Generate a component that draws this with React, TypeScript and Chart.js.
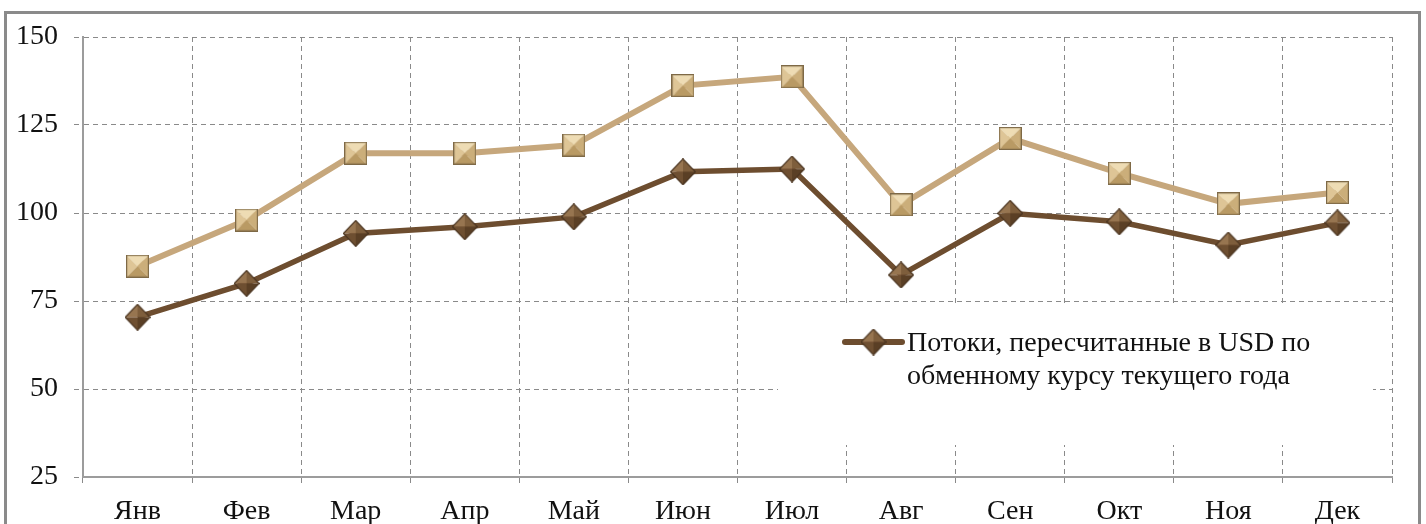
import React, { useEffect, useRef } from "react";
import { Chart, registerables } from "chart.js";

Chart.register(...registerables);

const months = ["Янв", "Фев", "Мар", "Апр", "Май", "Июн", "Июл", "Авг", "Сен", "Окт", "Ноя", "Дек"];
const constantRateFlows = [84.9, 98.0, 117.0, 117.0, 119.3, 136.2, 138.7, 102.3, 121.2, 111.3, 102.6, 105.8];
const currentRateFlows = [70.4, 80.0, 94.2, 96.1, 98.9, 111.7, 112.5, 82.4, 99.9, 97.5, 90.9, 97.2];
const yMin = 25;
const yMax = 150;
const yStep = 25;
const legendLines = ["Потоки, пересчитанные в USD по", "обменному курсу текущего года"];

const FONT = "'Liberation Serif', 'Times New Roman', serif";
const LIGHT_LINE = "#C6A77C";
const DARK_LINE = "#6D4D2F";
const GRID = "#8a8a8a";
const AXIS = "#9c9c9c";

function tri(g: CanvasRenderingContext2D, pts: number[][], color: string) {
  g.beginPath();
  g.moveTo(pts[0][0], pts[0][1]);
  for (let i = 1; i < pts.length; i++) g.lineTo(pts[i][0], pts[i][1]);
  g.closePath();
  g.fillStyle = color;
  g.fill();
}

function makeSquare(size: number) {
  const c = document.createElement("canvas");
  c.width = size;
  c.height = size;
  const g = c.getContext("2d")!;
  const s = size;
  const h = s / 2;
  tri(g, [[0, 0], [s, 0], [h, h]], "#EEDCB4");
  tri(g, [[0, 0], [0, s], [h, h]], "#DEC596");
  tri(g, [[s, 0], [s, s], [h, h]], "#CBAE7A");
  tri(g, [[0, s], [s, s], [h, h]], "#B99A64");
  g.strokeStyle = "#7E6946";
  g.lineWidth = 1.2;
  g.strokeRect(0.6, 0.6, s - 1.2, s - 1.2);
  return c;
}

function makeDiamond(w: number, hgt: number) {
  const c = document.createElement("canvas");
  c.width = w;
  c.height = hgt;
  const g = c.getContext("2d")!;
  const cx = w / 2;
  const cy = hgt / 2;
  tri(g, [[0.5, cy], [cx, 0.5], [cx, cy]], "#977550");
  tri(g, [[cx, 0.5], [w - 0.5, cy], [cx, cy]], "#7E5E3C");
  tri(g, [[w - 0.5, cy], [cx, hgt - 0.5], [cx, cy]], "#5A3F25");
  tri(g, [[cx, hgt - 0.5], [0.5, cy], [cx, cy]], "#6E4F31");
  g.beginPath();
  g.moveTo(cx, 0.6);
  g.lineTo(w - 0.6, cy);
  g.lineTo(cx, hgt - 0.6);
  g.lineTo(0.6, cy);
  g.closePath();
  g.strokeStyle = "#4A3420";
  g.lineWidth = 1.2;
  g.stroke();
  return c;
}

export default function App() {
  const ref = useRef<HTMLCanvasElement | null>(null);

  useEffect(() => {
    if (!ref.current) return;
    const square = makeSquare(23);
    const diamond = makeDiamond(26, 27);

    const legendPlugin = {
      id: "innerLegend",
      beforeDatasetsDraw(chart: any) {
        const { ctx, chartArea } = chart;
        ctx.save();
        ctx.fillStyle = "#ffffff";
        ctx.fillRect(chartArea.left + 695, chartArea.top + 266, 595, 142);
        ctx.restore();
      },
      afterDatasetsDraw(chart: any) {
        const { ctx, chartArea } = chart;
        const x0 = chartArea.left + 762;
        const y0 = chartArea.top + 305;
        ctx.save();
        ctx.strokeStyle = DARK_LINE;
        ctx.lineWidth = 6;
        ctx.lineCap = "round";
        ctx.beginPath();
        ctx.moveTo(x0, y0);
        ctx.lineTo(x0 + 57, y0);
        ctx.stroke();
        ctx.drawImage(diamond, x0 + 28.5 - diamond.width / 2, y0 - diamond.height / 2);
        ctx.fillStyle = "#111111";
        ctx.font = `28px ${FONT}`;
        ctx.textBaseline = "alphabetic";
        ctx.textAlign = "left";
        legendLines.forEach((t, i) => {
          ctx.fillText(t, x0 + 62, y0 + 9 + i * 33);
        });
        ctx.restore();
      },
    };

    const chart = new Chart(ref.current, {
      type: "line",
      data: {
        labels: months,
        datasets: [
          {
            label: "constant",
            data: constantRateFlows,
            borderColor: LIGHT_LINE,
            borderWidth: 6,
            pointStyle: square as any,
            pointRadius: 11,
            tension: 0,
          },
          {
            label: legendLines.join(" "),
            data: currentRateFlows,
            borderColor: DARK_LINE,
            borderWidth: 5.5,
            pointStyle: diamond as any,
            pointRadius: 13,
            tension: 0,
          },
        ],
      },
      options: {
        responsive: false,
        animation: false,
        devicePixelRatio: 1,
        layout: { padding: { left: 0, top: 37, right: 34, bottom: 0 } },
        plugins: {
          legend: { display: false },
          title: { display: false },
          tooltip: { enabled: false },
        },
        scales: {
          x: {
            offset: true,
            grid: {
              color: GRID,
              lineWidth: 1,
              offset: true,
              tickLength: 10,
              tickColor: GRID,
              tickBorderDash: [5, 4],
            },
            border: { display: true, color: AXIS, width: 2, dash: [5, 4] },
            ticks: {
              color: "#111111",
              font: { family: FONT, size: 28 },
              padding: 8,
              maxRotation: 0,
              autoSkip: false,
            },
            afterFit: (s: any) => {
              s.height = 47;
            },
          },
          y: {
            min: yMin,
            max: yMax,
            grid: {
              color: GRID,
              lineWidth: 1,
              tickLength: 9,
              tickColor: GRID,
              tickBorderDash: [5, 4],
            },
            border: { display: true, color: AXIS, width: 2, dash: [5, 4] },
            ticks: {
              stepSize: yStep,
              color: "#111111",
              font: { family: FONT, size: 28 },
              padding: 16,
            },
            afterFit: (s: any) => {
              s.width = 83;
            },
          },
        },
      },
      plugins: [legendPlugin],
    });

    return () => chart.destroy();
  }, []);

  return (
    <div
      style={{
        position: "fixed",
        left: 0,
        top: 0,
        width: 1426,
        height: 524,
        overflow: "hidden",
        background: "#ffffff",
      }}
    >
      <div
        style={{
          position: "absolute",
          left: 4,
          top: 11,
          width: 1417,
          height: 620,
          boxSizing: "border-box",
          border: "3px solid #8a8a8a",
        }}
      />
      <canvas
        ref={ref}
        width={1426}
        height={524}
        style={{ position: "absolute", left: 0, top: 0, width: 1426, height: 524 }}
      />
    </div>
  );
}
